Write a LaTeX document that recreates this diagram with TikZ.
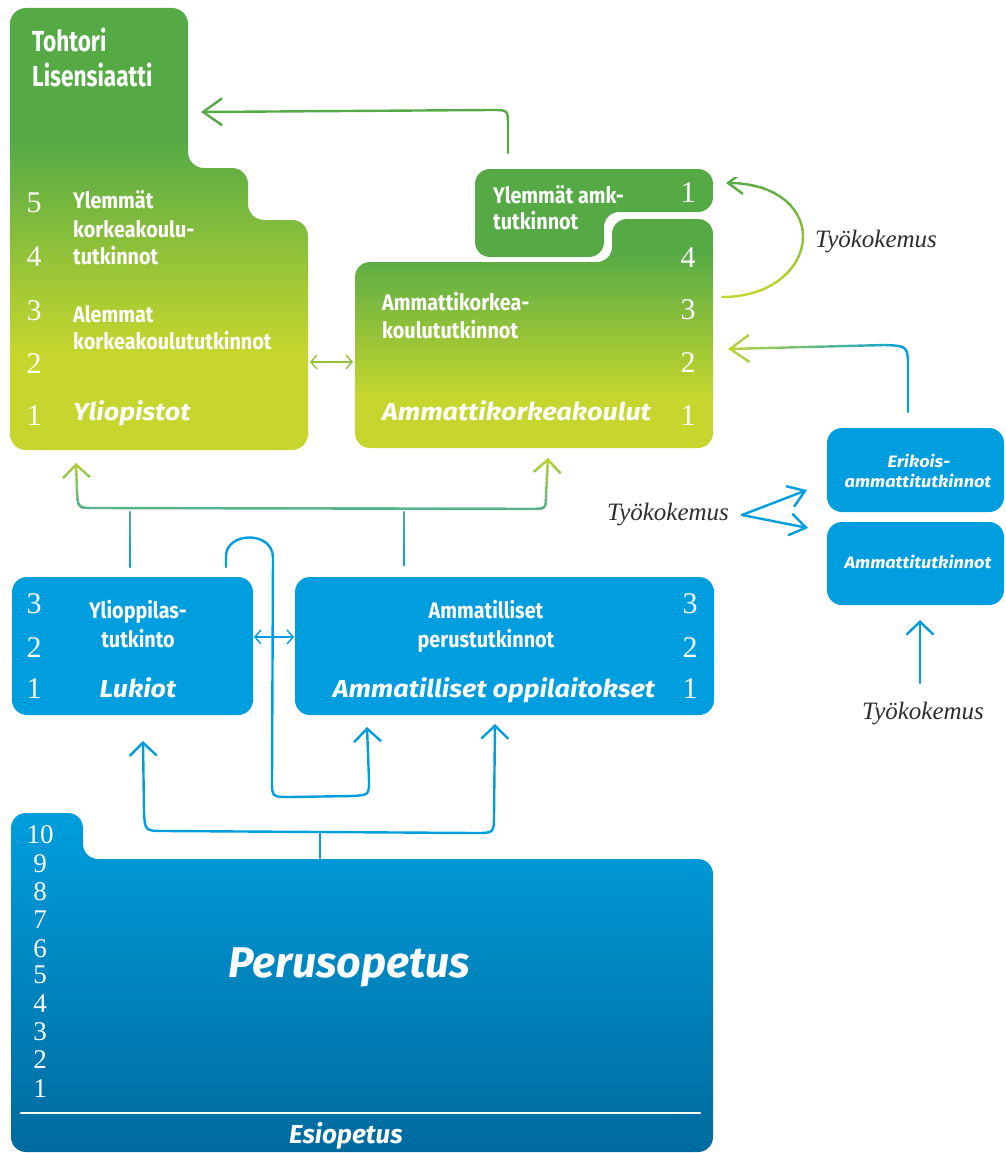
\documentclass[tikz,border=0pt]{standalone}
\usepackage{fontspec}
\newfontfamily\cond[FakeStretch=0.88]{Fira Sans}
\newfontfamily\xcond[FakeStretch=0.78]{Fira Sans}
\newfontfamily\wide[FakeStretch=1.1]{Fira Sans}
\newfontfamily\fsans{Fira Sans}
\newfontfamily\dig{Liberation Serif}
\usetikzlibrary{arrows.meta}
\definecolor{grn}{RGB}{85,170,70}
\definecolor{ylw}{RGB}{198,214,46}
\definecolor{blu}{RGB}{0,158,222}
\definecolor{bluD}{RGB}{0,106,158}
\definecolor{teal}{RGB}{80,178,140}
\definecolor{workc}{RGB}{45,45,45}
\pgfdeclareverticalshading{yliosh}{100bp}{color(0bp)=(ylw); color(36bp)=(ylw); color(60bp)=(grn); color(100bp)=(grn)}
\pgfdeclareverticalshading{amksh}{100bp}{color(0bp)=(ylw); color(36bp)=(ylw); color(68bp)=(grn); color(100bp)=(grn)}
\pgfdeclareverticalshading{perush}{100bp}{color(0bp)=(bluD); color(25bp)=(bluD); color(75bp)=(blu); color(100bp)=(blu)}
\newcommand\gradbandy[6]{%
  \foreach \bi in {0,...,13}{%
    \pgfmathsetmacro\bya{#1+(#2-#1)*\bi/14-0.4}%
    \pgfmathsetmacro\byb{#1+(#2-#1)*(\bi+1)/14+0.4}%
    \pgfmathtruncatemacro\bpc{100-100*(\bi+0.5)/14}%
    \begin{scope}
      \clip (-20,\bya) rectangle (1030,\byb);
      \draw[conn, color=#3!\bpc!#4, #5] #6;
    \end{scope}}}
\newcommand\gradbandx[6]{%
  \foreach \bi in {0,...,13}{%
    \pgfmathsetmacro\bxa{#1+(#2-#1)*\bi/14-0.4}%
    \pgfmathsetmacro\bxb{#1+(#2-#1)*(\bi+1)/14+0.4}%
    \pgfmathtruncatemacro\bpc{100-100*(\bi+0.5)/14}%
    \begin{scope}
      \clip (\bxa,-20) rectangle (\bxb,1200);
      \draw[conn, color=#3!\bpc!#4, #5] #6;
    \end{scope}}}
\begin{document}
\begin{tikzpicture}[x=1pt,y=-1pt,
  conn/.style={line width=2.4pt, line cap=round, line join=round},
  thinconn/.style={line width=1.4pt, line cap=round},
  hd/.tip={Straight Barb[length=13pt,width=27pt]},
  bighd/.tip={Straight Barb[length=19pt,width=27pt]},
  smallhd/.tip={Straight Barb[length=6pt,width=14pt]},
  bbox/.style={fill=blu, rounded corners=15pt, inner sep=0pt},
  lbl/.style={text=white, inner sep=0pt, anchor=base west, font=\cond\bfseries\fontsize{22.5}{22.5}\selectfont},
  clbl/.style={lbl, anchor=base},
  ttl/.style={text=white, inner sep=0pt, anchor=base west, font=\wide\bfseries\itshape\fontsize{24.5}{24.5}\selectfont},
  sttl/.style={text=white, inner sep=0pt, anchor=base, font=\wide\bfseries\itshape\fontsize{16.5}{16.5}\selectfont},
  num/.style={text=white, inner sep=0pt, anchor=base, font=\dig\fontsize{30}{30}\selectfont},
  pnum/.style={text=white, inner sep=0pt, anchor=base, font=\dig\fontsize{27}{27}\selectfont},
  work/.style={text=workc, inner sep=0pt, anchor=base west, font=\dig\itshape\fontsize{25}{25}\selectfont}]
\useasboundingbox (0,0) rectangle (1005,1153);

% ---------- boxes ----------
\shade[shading=yliosh, rounded corners=16pt] (10,8) -- (188,8) -- (188,168) -- (248,168) -- (248,220) -- (308,220) -- (308,450) -- (10,450) -- cycle;
\shade[shading=amksh, rounded corners=15pt] (355,262) -- (612,262) -- (612,219) -- (713,219) -- (713,448) -- (355,448) -- cycle;
\fill[grn, rounded corners=15pt] (475,169) -- (713,169) -- (713,212) -- (604,212) -- (604,257) -- (475,257) -- cycle;
\shade[shading=perush, rounded corners=15pt] (11,813) -- (83,813) -- (83,859) -- (713,859) -- (713,1152) -- (11,1152) -- cycle;

\node[bbox, minimum width=241pt, minimum height=138pt] (lukiobox) at (132.5,646) {};
\node[bbox, minimum width=419pt, minimum height=138pt] (ammbox) at (504.5,646) {};
\node[bbox, minimum width=177pt, minimum height=84pt] (erikbox) at (915.5,470) {};
\node[bbox, minimum width=177pt, minimum height=83pt] (atbox) at (915.5,563.5) {};

% ---------- connector end points ----------
\coordinate (amkup) at (508,153);
\coordinate (tohtarr) at (201,112);
\coordinate (yliR) at (310,362);
\coordinate (amkL) at (353,362);
\coordinate (wkS) at (722,297);
\coordinate (wkE) at (726,183);
\coordinate (erikS) at (908,412);
\coordinate (erikE) at (728,349);
\coordinate (yliarr) at (76,463);
\coordinate (amkarr) at (548,458);
\coordinate (lukS) at (130,567);
\coordinate (lukT) at (130,512);
\coordinate (ammS) at (404,565);
\coordinate (ammT) at (404,512);
\coordinate (loopS) at (226,567);
\coordinate (loopE) at (367,727);
\coordinate (lukarr) at (143,741);
\coordinate (ammarr) at (495,724);
\coordinate (perS) at (320,858);
\coordinate (perT) at (320,833);
\coordinate (lukR) at (254,637);
\coordinate (ammL) at (294,637);
\coordinate (wkJ) at (742,515);
\coordinate (wkU) at (807,490);
\coordinate (wkD) at (808,528);
\coordinate (wkB) at (920,683);
\coordinate (wkBT) at (920,620);
\coordinate (pl1) at (21,1113);
\coordinate (pl2) at (700,1113);

% ---------- connectors ----------
\draw[conn, grn, -{bighd}] (amkup) -- (508,126) .. controls (508,110) .. (492,110) -- (tohtarr);
\draw[thinconn, grn!45!ylw, {smallhd}-{smallhd}] (yliR) -- (amkL);
\gradbandy{178}{300}{grn}{ylw}{-{Straight Barb[length=15pt,width=22pt]}}{(wkS) .. controls (775,297) and (803,265) .. (803,237) .. controls (803,205) and (772,183) .. (wkE)}
\gradbandx{720}{915}{ylw}{blu}{-{bighd}}{(erikS) -- (908,370) .. controls (908,346) .. (885,345) -- (erikE)}
\gradbandy{455}{512}{ylw}{teal}{{hd}-{hd}}{(yliarr) -- (77,492) .. controls (78,508) .. (95,508) -- (530,509) .. controls (546,509) .. (546,494) -- (amkarr)}
\gradbandy{508}{570}{teal}{blu}{}{(lukS) -- (lukT)}
\gradbandy{508}{570}{teal}{blu}{}{(ammS) -- (ammT)}
\draw[conn, blu, -{hd}] (loopS) -- (226,556) .. controls (226,532) and (273,530) .. (273,558) -- (272,780) .. controls (272,797) .. (290,797) -- (352,796) .. controls (369,795) .. (369,780) -- (loopE);
\draw[conn, blu, {hd}-{hd}] (lukarr) -- (144,812) .. controls (145,831) .. (165,831) -- (475,833) .. controls (494,833) .. (494,815) -- (ammarr);
\draw[conn, blu] (perS) -- (perT);
\draw[thinconn, blu, {smallhd}-{smallhd}] (lukR) -- (ammL);
\draw[conn, blu, -{Straight Barb[length=16pt,width=22pt]}] (wkJ) -- (wkU);
\draw[conn, blu, -{Straight Barb[length=16pt,width=22pt]}] (wkJ) -- (wkD);
\draw[conn, blu, -{hd}] (wkB) -- (wkBT);
\draw[white, line width=2.6pt, line cap=round] (pl1) -- (pl2);

% ---------- Yliopistot ----------
\node[lbl, font=\xcond\bfseries\fontsize{29}{29}\selectfont] (tohtori) at (32,52) {Tohtori};
\node[lbl, font=\xcond\bfseries\fontsize{29}{29}\selectfont] (lisens) at (32,87) {Lisensiaatti};
\node[lbl] (ylem1) at (73,208) {Ylemmät};
\node[lbl] (ylem2) at (73,237) {korkeakoulu-};
\node[lbl] (ylem3) at (73,264) {tutkinnot};
\node[lbl] (alem1) at (73,322) {Alemmat};
\node[lbl] (alem2) at (73,349) {korkeakoulututkinnot};
\node[ttl] (yliop) at (73,420) {Yliopistot};
\node[num] (y5) at (34,212) {5};
\node[num] (y4) at (34,266) {4};
\node[num] (y3) at (34,320) {3};
\node[num] (y2) at (34,373) {2};
\node[num] (y1) at (34,425) {1};

% ---------- Ammattikorkeakoulut ----------
\node[lbl] (yamk1) at (493,203) {Ylemmät amk-};
\node[lbl] (yamk2) at (493,229) {tutkinnot};
\node[num] (ya1) at (688,202) {1};
\node[num] (a4) at (688,267) {4};
\node[num] (a3) at (688,319) {3};
\node[num] (a2) at (688,372) {2};
\node[num] (a1) at (688,425) {1};
\node[lbl] (amkt1) at (382,310) {Ammattikorkea-};
\node[lbl] (amkt2) at (382,338) {koulututkinnot};
\node[ttl] (amk) at (382,420) {Ammattikorkeakoulut};

% ---------- Lukiot ----------
\node[num] (l3) at (34,613) {3};
\node[num] (l2) at (34,657) {2};
\node[num] (l1) at (34,698) {1};
\node[clbl] (ylt1) at (138,618) {Ylioppilas-};
\node[clbl] (ylt2) at (138,647) {tutkinto};
\node[ttl, anchor=base] (lukiot) at (138,697) {Lukiot};

% ---------- Ammatilliset ----------
\node[clbl] (amp1) at (486,618) {Ammatilliset};
\node[clbl] (amp2) at (486,647) {perustutkinnot};
\node[ttl, anchor=base] (ammol) at (494,697) {Ammatilliset oppilaitokset};
\node[num] (m3) at (690,613) {3};
\node[num] (m2) at (690,657) {2};
\node[num] (m1) at (690,698) {1};

% ---------- right column ----------
\node[sttl] (erik1) at (919,467) {Erikois-};
\node[sttl] (erik2) at (918,487) {ammattitutkinnot};
\node[sttl] (at1) at (918,568) {Ammattitutkinnot};
\node[work] (wk1) at (815,247) {Työkokemus};
\node[work] (wk2) at (607,520) {Työkokemus};
\node[work] (wk3) at (862,719) {Työkokemus};

% ---------- Perusopetus ----------
\node[pnum] (p10) at (40,843) {10};
\node[pnum] (p9) at (40,872) {9};
\node[pnum] (p8) at (40,900) {8};
\node[pnum] (p7) at (40,928) {7};
\node[pnum] (p6) at (40,957) {6};
\node[pnum] (p5) at (40,983) {5};
\node[pnum] (p4) at (40,1012) {4};
\node[pnum] (p3) at (40,1040) {3};
\node[pnum] (p2) at (40,1068) {2};
\node[pnum] (p1) at (40,1097) {1};
\node[ttl, font=\fsans\bfseries\itshape\fontsize{43}{43}\selectfont] (perus) at (228,977) {Perusopetus};
\node[ttl, font=\fsans\bfseries\itshape\fontsize{26}{26}\selectfont] (esi) at (289,1143) {Esiopetus};
\end{tikzpicture}
\end{document}
